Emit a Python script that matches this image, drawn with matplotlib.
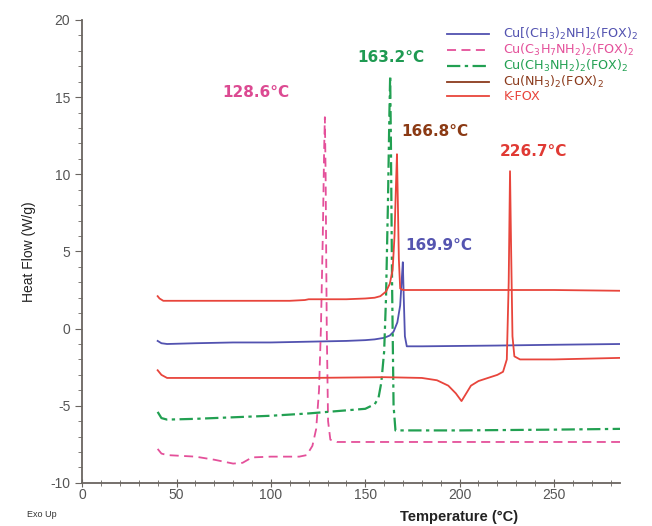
"""DSC curves of Cu-FOX complexes and K-FOX (heat flow vs temperature)."""

import matplotlib.pyplot as plt
from matplotlib.ticker import MultipleLocator

plt.rcParams["font.family"] = ["Liberation Sans", "DejaVu Sans"]
plt.rcParams["axes.unicode_minus"] = False

# ---------------------------------------------------------------------------
# Data
# ---------------------------------------------------------------------------
T_NH3 = [40, 41, 43, 50, 80, 110, 118, 120, 140, 150, 155, 158, 161, 163,
         164.5, 165.5, 166.2, 166.8, 167.3, 167.8, 168.5, 170, 200, 250, 285]
Q_NH3 = [2.1, 1.95, 1.8, 1.8, 1.8, 1.8, 1.85, 1.9, 1.9, 1.95, 2.0, 2.1, 2.4,
         2.9, 3.8, 6.0, 9.0, 11.3, 8.0, 4.5, 2.6, 2.5, 2.5, 2.5, 2.45]

T_DMA = [40, 42, 45, 60, 80, 100, 120, 140, 150, 155, 160, 163, 165, 167,
         168.5, 169.5, 169.9, 170.4, 171, 172, 180, 220, 250, 285]
Q_DMA = [-0.8, -0.95, -1.0, -0.95, -0.9, -0.9, -0.85, -0.8, -0.75, -0.7, -0.6,
         -0.45, -0.2, 0.4, 1.5, 3.5, 4.3, 2.0, -0.5, -1.15, -1.15, -1.1, -1.05, -1.0]

T_KFOX = [40, 42, 45, 80, 120, 160, 180, 188, 194, 198, 201, 203, 206, 210,
          215, 220, 223, 225, 226, 226.7, 227.3, 228, 229, 232, 250, 285]
Q_KFOX = [-2.7, -3.0, -3.2, -3.2, -3.2, -3.15, -3.2, -3.35, -3.7, -4.2, -4.7,
          -4.3, -3.7, -3.4, -3.2, -3.0, -2.8, -2.0, 3.0, 10.2, 5.0, -0.5, -1.8,
          -2.0, -2.0, -1.9]

T_MA = [40, 42, 45, 60, 80, 100, 120, 140, 150, 155, 157, 158.5, 160, 161,
        162, 162.8, 163.2, 163.6, 164.2, 165, 166, 170, 200, 250, 285]
Q_MA = [-5.4, -5.8, -5.9, -5.85, -5.75, -5.65, -5.5, -5.3, -5.2, -4.9, -4.5,
        -3.5, -1.5, 2.0, 8.0, 14.0, 16.4, 12.0, 3.0, -5.0, -6.6, -6.6, -6.6,
        -6.55, -6.5]

T_PA = [40, 42, 45, 60, 70, 80, 85, 90, 100, 115, 119, 122, 124, 125.5, 126.5,
        127.5, 128.2, 128.6, 129, 129.6, 130.3, 131.5, 135, 200, 285]
Q_PA = [-7.8, -8.1, -8.2, -8.3, -8.5, -8.75, -8.7, -8.35, -8.3, -8.3, -8.2,
        -7.6, -6.5, -4.0, 0.0, 6.0, 11.5, 13.7, 10.0, 0.0, -6.0, -7.2, -7.35,
        -7.35, -7.35]

# peak labels: text, x, y
PEAK_TEXT = ["128.6°C", "163.2°C", "166.8°C", "169.9°C", "226.7°C"]
PEAK_X = [92, 163.5, 187, 189, 239]
PEAK_Y = [15.3, 17.6, 12.8, 5.4, 11.5]

C_BLUE = "#5252b0"
C_PINK = "#e4509a"
C_GREEN = "#22a052"
C_BROWN = "#8b3a1c"
C_RED = "#e8453c"
PEAK_COLORS = ["#dc4a92", "#1f9a52", "#8b3a14", "#5555b0", "#e03a34"]

fig = plt.figure(figsize=(6.52, 5.26), dpi=100)
ax = fig.add_axes([0.126, 0.082, 0.825, 0.88])

ax.plot(T_DMA, Q_DMA, color=C_BLUE, lw=1.3,
        label=r"Cu[(CH$_3$)$_2$NH]$_2$(FOX)$_2$")
ax.plot(T_PA, Q_PA, color=C_PINK, lw=1.3, ls=(0, (5, 3)),
        label=r"Cu(C$_3$H$_7$NH$_2$)$_2$(FOX)$_2$")
ax.plot(T_MA, Q_MA, color=C_GREEN, lw=1.6, ls=(0, (6, 2, 1.5, 2)),
        label=r"Cu(CH$_3$NH$_2$)$_2$(FOX)$_2$")
ax.plot(T_NH3, Q_NH3, color=C_RED, lw=1.3)
ax.plot(T_KFOX, Q_KFOX, color=C_RED, lw=1.3)

# legend handles (the Cu(NH3)2 entry is brown in the original key)
ax.plot([], [], color=C_BROWN, lw=1.3, label=r"Cu(NH$_3$)$_2$(FOX)$_2$")
ax.plot([], [], color=C_RED, lw=1.3, label="K-FOX")

leg = ax.legend(loc="upper left", bbox_to_anchor=(0.668, 0.998), frameon=False,
                prop={"family": "DejaVu Sans", "size": 9.2},
                handlelength=3.3, labelspacing=0.0, handleheight=0.6,
                borderaxespad=0.0, handletextpad=1.15)
for txt, col in zip(leg.get_texts(), [C_BLUE, C_PINK, C_GREEN, C_BROWN, C_RED]):
    txt.set_color(col)

for s, x, y, c in zip(PEAK_TEXT, PEAK_X, PEAK_Y, PEAK_COLORS):
    ax.text(x, y, s, color=c, fontsize=11, fontweight="bold",
            family="DejaVu Sans", ha="center", va="center")

ax.set_xlim(0, 285)
ax.set_ylim(-10, 20)
ax.xaxis.set_major_locator(MultipleLocator(50))
ax.xaxis.set_minor_locator(MultipleLocator(10))
ax.yaxis.set_major_locator(MultipleLocator(5))
ax.yaxis.set_minor_locator(MultipleLocator(1))

ax.spines[["top", "right"]].set_visible(False)
for sp in ("left", "bottom"):
    ax.spines[sp].set_color("#6a6560")
    ax.spines[sp].set_linewidth(1.3)
ax.tick_params(axis="both", which="both", colors="#6a6560", labelcolor="#555555",
               labelsize=10)
ax.tick_params(axis="x", which="both", direction="inout", pad=1)
ax.tick_params(axis="y", which="major", length=5)
ax.tick_params(axis="y", which="minor", length=3)
ax.tick_params(axis="x", which="major", length=6)
ax.tick_params(axis="x", which="minor", length=4)

ax.set_ylabel("Heat Flow (W/g)", fontsize=10, color="#222222", labelpad=10)
ax.set_xlabel("Temperature (°C)", fontsize=10.5, fontweight="bold",
              color="#222222")
ax.xaxis.set_label_coords(0.70, -0.058)
fig.text(0.042, 0.018, "Exo Up", fontsize=6.5, color="#333333")

fig.savefig("out.png", dpi=100)
